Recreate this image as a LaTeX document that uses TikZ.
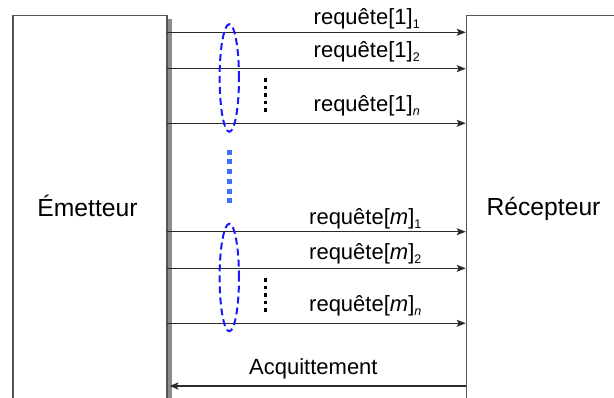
\documentclass[tikz,border=0pt]{standalone}
\usepackage{fontspec}
\setmainfont{Liberation Sans}
\usetikzlibrary{arrows.meta,shapes.geometric}
\definecolor{boxline}{HTML}{555555}
\definecolor{arrowc}{HTML}{2A2A2A}
\definecolor{shadowc}{HTML}{8C8C8C}
\definecolor{grpblue}{HTML}{1A1AFF}
\definecolor{dotblue}{HTML}{3C6EFF}
\newcommand\lowidx[1]{\raisebox{-4pt}{\fontsize{12.5}{12.5}\selectfont #1}}
\begin{document}
\begin{tikzpicture}[x=1pt,y=-1pt,
  box/.style={draw=boxline, line width=1.3pt, fill=white, inner sep=0pt, anchor=north west},
  msg/.style={draw=arrowc, line width=1.4pt, -{Stealth[length=9pt,width=7pt,inset=2pt]}},
  lbl/.style={font=\fontsize{22}{22}\selectfont, anchor=base west, inner sep=0pt},
  actor/.style={font=\fontsize{24.7}{25}\selectfont, anchor=base, inner sep=0pt},
  grp/.style={ellipse, draw=grpblue, line width=2pt, dash pattern=on 7pt off 4pt,
              minimum width=19.4pt, minimum height=107.6pt, inner sep=0pt},
  blackdots/.style={draw=black, line width=3.3pt, dash pattern=on 3.3pt off 4.2pt},
  bluedots/.style={draw=dotblue, line width=5pt, dash pattern=on 5pt off 4.68pt},
]
\useasboundingbox (0,0) rectangle (614,398);
\begin{scope}
\clip (0,0) rectangle (614,398);
% boxes
\node[box, minimum width=153.4pt, minimum height=420pt] (em) at (12.3,15) {};
\node[box, minimum width=200pt, minimum height=420pt] (rc) at (465.7,15) {};
\fill[shadowc] ([yshift=-4pt,xshift=0.65pt]em.north east) rectangle ([xshift=5pt]em.south east);
\draw[boxline, line width=1.3pt] (em.north east) -- (em.south east);

\node[actor] (emt) at (87.5,216.7) {Émetteur};
\node[actor] (rct) at (543.5,216) {Récepteur};

% rows
\coordinate (r1) at (0,32.3);
\coordinate (r2) at (0,68.7);
\coordinate (r3) at (0,123.3);
\coordinate (r4) at (0,231.7);
\coordinate (r5) at (0,268.3);
\coordinate (r6) at (0,323.3);
\coordinate (r7) at (0,386);

\draw[msg] (em.east |- r1) -- (rc.west |- r1);
\draw[msg] (em.east |- r2) -- (rc.west |- r2);
\draw[msg] (em.east |- r3) -- (rc.west |- r3);
\draw[msg] (em.east |- r4) -- (rc.west |- r4);
\draw[msg] (em.east |- r5) -- (rc.west |- r5);
\draw[msg] (em.east |- r6) -- (rc.west |- r6);
\draw[msg] (rc.west |- r7) -- ([xshift=2.5pt]em.east |- r7);

% labels
\node[lbl] (l1) at (313.5,25) {requête[1]\lowidx{1}};
\node[lbl] (l2) at (313.5,58) {requête[1]\lowidx{2}};
\node[lbl] (l3) at (313.5,111.5) {requête[1]\lowidx{\itshape n}};
\node[lbl] (l4) at (309,225) {requête[\textit{m}]\lowidx{1}};
\node[lbl] (l5) at (309,260) {requête[\textit{m}]\lowidx{2}};
\node[lbl] (l6) at (309,311.5) {requête[\textit{m}]\lowidx{\itshape n}};
\node[lbl] (ack) at (249,375) {Acquittement};

% groups
\node[grp] (g1) at (229.3,78) {};
\node[grp] (g2) at (229.3,277.5) {};
\draw[blackdots] (265.7,78.35) -- (265.7,111.65);
\draw[blackdots] (265.7,278.35) -- (265.7,311.65);
\draw[bluedots] (229.3,149.8) -- (229.3,203.2);
\end{scope}
\end{tikzpicture}
\end{document}
